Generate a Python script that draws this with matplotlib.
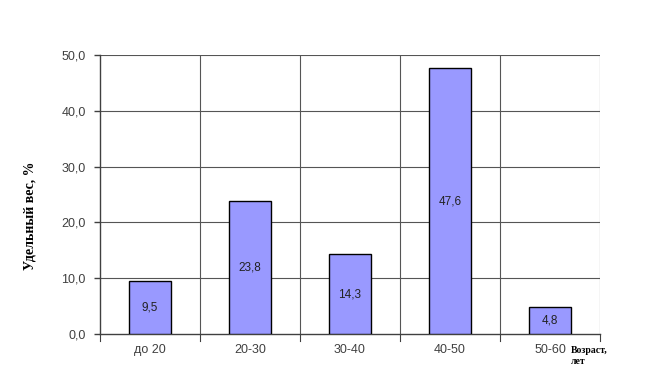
import matplotlib.pyplot as plt
import numpy as np

categories = ["до 20", "20-30", "30-40", "40-50", "50-60"]
values = [9.5, 23.8, 14.3, 47.6, 4.8]
yticks = [0, 10, 20, 30, 40, 50]

plt.rcParams["font.family"] = ["Liberation Sans", "DejaVu Sans"]

fig = plt.figure(figsize=(6.48, 3.69), dpi=100)
ax = fig.add_axes([0.154, 0.095, 0.772, 0.756])

x = np.arange(len(categories))
bars = ax.bar(x, values, width=0.42, color="#9999ff", edgecolor="black", linewidth=1.0, zorder=3)

for xi, v in zip(x, values):
    ax.text(xi, v / 2, f"{v:.1f}".replace(".", ","), ha="center", va="center",
            fontsize=8.5, color="#222222", zorder=4)

ax.set_xlim(-0.5, len(categories) - 0.5)
ax.set_ylim(0, 50)
ax.set_yticks(yticks)
ax.set_yticklabels([f"{t:.1f}".replace(".", ",") for t in yticks], fontsize=9, color="#404040")
ax.set_xticks(x)
ax.set_xticklabels(categories, fontsize=9, color="#404040")
ax.tick_params(axis="x", length=0, pad=7)
ax.tick_params(axis="y", length=4, width=1, color="#404040", pad=6)

# horizontal and vertical grid lines (category boundaries)
for t in yticks[1:]:
    ax.axhline(t, color="#555555", linewidth=0.8, zorder=1)
for b in np.arange(0.5, len(categories), 1.0):
    ax.axvline(b, color="#555555", linewidth=0.8, zorder=1)
for b in np.arange(-0.5, len(categories), 1.0):
    ax.plot([b, b], [0, -1.2], color="#404040", linewidth=0.8, clip_on=False)

for s in ["top", "right"]:
    ax.spines[s].set_visible(False)
ax.spines["left"].set_color("#404040")
ax.spines["bottom"].set_color("#404040")
ax.spines["left"].set_linewidth(1.0)
ax.spines["bottom"].set_linewidth(1.0)

fig.text(0.047, 0.415, "Удельный вес, %", rotation=90, ha="center", va="center",
         fontsize=10, fontweight="bold", family="Liberation Serif")
fig.text(0.881, 0.035, "Возраст,\nлет", ha="left", va="center", fontsize=7,
         fontweight="bold", family="Liberation Serif", linespacing=1.25)

fig.savefig("out.png", dpi=100)
